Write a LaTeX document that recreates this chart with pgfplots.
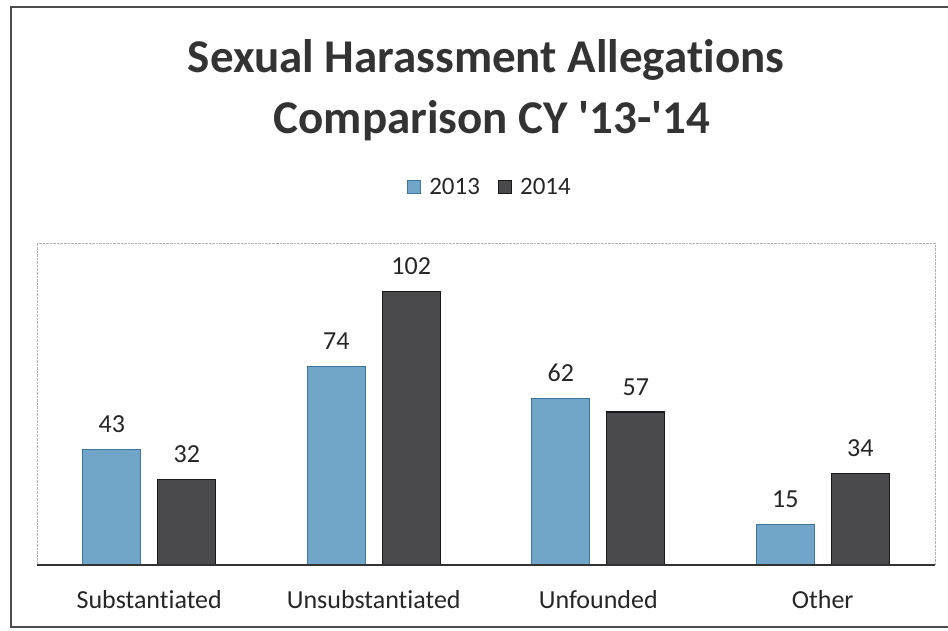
\documentclass[border=0pt]{standalone}
\usepackage{fontspec}
\setmainfont[Ligatures={NoCommon}]{Carlito}
\usepackage{pgfplots}
\pgfplotsset{compat=1.18}
\definecolor{b13}{RGB}{114,166,201}
\definecolor{b13d}{RGB}{62,118,158}
\definecolor{g14}{RGB}{74,74,77}
\definecolor{g14d}{RGB}{25,25,25}
\pgfplotsset{sqlegend/.style={legend image code/.code={\draw[##1] (0bp,-6.5bp) rectangle (13bp,6.5bp); \path (19bp,0bp);}}}
\begin{document}
\begin{tikzpicture}
\path[use as bounding box] (0bp,0bp) rectangle (948bp,-631bp);
\draw[black!70, line width=1.1bp] (950bp,-7bp) -- (11bp,-7bp) -- (11bp,-627bp) -- (950bp,-627bp);
\node[anchor=base, font=\fontsize{47bp}{56bp}\selectfont\bfseries, text=black!80, inner sep=0pt] at (486bp,-72bp) {Sexual Harassment Allegations};
\node[anchor=base, font=\fontsize{47bp}{56bp}\selectfont\bfseries, text=black!80, inner sep=0pt] at (492bp,-133bp) {Comparison CY \textquotesingle13-\textquotesingle14};
\begin{axis}[
  at={(37bp,-565bp)}, anchor=south west,
  scale only axis, width=898bp, height=322bp,
  xmin=-0.5, xmax=3.5, ymin=0, ymax=120,
  ybar=17bp, bar width=58bp,
  axis line style={draw=none},
  ytick=\empty,
  xtick={0,1,2,3},
  xticklabels={Substantiated,Unsubstantiated,Unfounded,Other},
  major tick length=0pt,
  xticklabel style={anchor=base, yshift=-43bp, font=\fontsize{26bp}{30bp}\selectfont, text=black!85},
  nodes near coords,
  /pgf/number format/assume math mode=true,
  nodes near coords style={anchor=base, yshift=17bp, font=\fontsize{26bp}{30bp}\selectfont, text=black!85},
  clip=false,
  legend style={at={(axis description cs:0.5045,1.174)}, anchor=center, draw=none, fill=none,
    font=\fontsize{25bp}{29bp}\selectfont, text=black!85,
    /tikz/every even column/.append style={column sep=16bp}},
  legend columns=2,
]
\addplot[fill=b13, draw=b13d, line width=1bp, sqlegend] coordinates {(0,43) (1,74) (2,62) (3,15)};
\addplot[fill=g14, draw=g14d, line width=1.2bp, sqlegend] coordinates {(0,32) (1,102) (2,57) (3,34)};
\legend{2013,2014}
\draw[black!30, densely dotted] (rel axis cs:0,0) -- (rel axis cs:0,1) -- (rel axis cs:1,1) -- (rel axis cs:1,0);
\draw[black!80, line width=1.2bp] (rel axis cs:0,0) -- (rel axis cs:1,0);
\end{axis}
\end{tikzpicture}
\end{document}
